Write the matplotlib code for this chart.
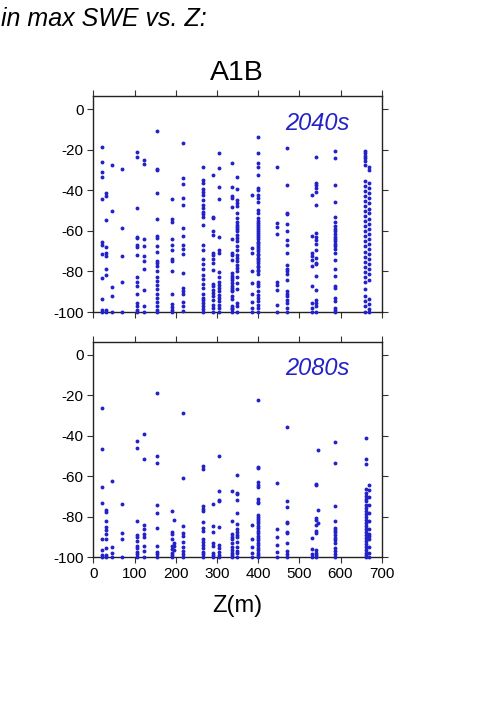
import matplotlib
matplotlib.use("Agg")
import matplotlib.pyplot as plt

plt.rcParams['font.family'] = ['Liberation Sans', 'DejaVu Sans']
plt.rcParams['axes.unicode_minus'] = False

# Elevation columns (m) for the 2040s panel
elev_2040 = [20, 30, 45, 69, 105, 123, 155, 190, 217, 267, 290, 305, 336, 348,
             386, 400, 447, 469, 530, 540, 587, 660, 668]
swe_2040 = [
    [-18.5, -26, -31, -33.6, -44.4, -65.7, -67, -71.6, -83.4, -93.6, -98.9, -100],
    [-41.5, -43, -54.6, -68, -70.7, -72.3, -78.7, -81.6, -99, -100],
    [-27.5, -50, -87.7, -92.3, -100],
    [-29.5, -58.5, -72.6, -85.4, -100],
    [-21, -23.4, -48.5, -62.8, -63.6, -67, -68, -71.8, -82.5, -85, -87.4, -91, -95.6, -97, -99, -100],
    [-25, -27, -64, -67.7, -72.6, -75, -79, -89, -97, -100],
    [-10.6, -29.3, -30, -41.5, -54.3, -62.5, -63.6, -67.7, -70.6, -75, -76, -77.5, -80, -82.5,
     -84.5, -86.6, -88.7, -91, -93, -95.2, -97.2, -98.9, -100],
    [-44.4, -54.3, -55.4, -64, -67, -69.3, -74, -75, -80, -91, -96, -97.5, -99, -100],
    [-16.6, -34, -36.9, -44, -47.2, -58.5, -62.3, -67, -69, -71.6, -81, -88.4, -89.7, -91.3, -95, -97, -99.5],
    [-28.7, -35, -36.5, -39.5, -40.8, -42.3, -44.8, -47, -48.9, -50.5, -51.8, -53, -57, -67, -69.3,
     -73.8, -76.4, -79, -81.6, -83.8, -86, -88.2, -91, -93, -94.3, -95.6, -97.2, -98.5, -100],
    [-32.5, -53, -53.8, -60, -62, -71, -72, -74, -75.9, -79.2, -86, -87.4, -89, -90.7, -92.3, -94, -96.4, -98, -100],
    [-21.8, -29.2, -38.2, -44.4, -62.8, -69.3, -71, -80.5, -82.5, -85, -86.6, -88.2, -89.8, -91.5,
     -93.1, -94.8, -96.4, -98, -100],
    [-26.4, -38.2, -43, -44, -48.4, -64, -70.7, -71.8, -74.6, -80.8, -82.1, -83.3, -84.4, -85.7, -87,
     -88.2, -89, -89.8, -92, -93.6, -97, -97.9, -98.7, -100],
    [-33.6, -39.5, -44.8, -46.4, -47.7, -51.3, -53.8, -55.4, -57, -57.9, -59.2, -60.3, -62, -63.6,
     -65.2, -67.7, -69.3, -72, -73.4, -75.1, -76.7, -78.4, -80, -82.5, -85.7, -88.7, -95.6, -97.2, -100],
    [-42.3, -68.5, -71, -80, -85.7, -91, -95.2, -98, -100],
    [-13.6, -21.8, -26.4, -28.4, -32.5, -39, -39.8, -42.3, -43.9, -46, -49.7, -51, -53.8, -55, -56.2,
     -57.1, -58, -59.3, -60, -61.2, -62, -63.1, -64, -65.3, -66, -67.2, -68, -69.1, -70, -71.3, -72,
     -73.2, -74, -75.1, -76, -77.3, -78, -79.2, -80, -81.5, -85, -86.1, -87.4, -89.8, -91.5, -93,
     -94.8, -96.4, -98, -100],
    [-28.4, -56, -58, -61.5, -85, -86.6, -89, -96.4, -100],
    [-19.2, -37.4, -51, -51.8, -56.6, -60.3, -64.4, -67, -71, -76.7, -79, -80, -81.4, -84.4, -89.8,
     -91, -92, -93.9, -95.6, -98, -100],
    [-42.3, -62.3, -70.7, -72.6, -74.3, -77.5, -87.4, -95.6, -98, -100],
    [-23.4, -36.2, -37.4, -39, -40.7, -47.2, -61, -62.8, -64.4, -66.4, -69.3, -73.6, -75.9, -76.2,
     -82.1, -89, -93.9, -95.6, -97.2, -100],
    [-20.6, -24.3, -37.4, -46, -53.3, -55.4, -57.5, -59.2, -60.3, -61.5, -62.8, -64, -65.2, -66.4,
     -67.7, -69, -70.9, -74.3, -78.8, -82.1, -87.4, -88.2, -93, -94.6, -98, -99, -100],
    [-20.6, -21.8, -23.1, -24.3, -25.4, -27.5, -35.2, -37.7, -40.2, -42.7, -45.2, -47.7, -50.2, -52.7,
     -55.2, -57.7, -60.2, -62.7, -65.2, -67.7, -70.2, -72.7, -75.2, -77.7, -80.2, -82.7, -85.2,
     -88.5, -92, -94.7, -97.2, -100],
    [-28.7, -29.9, -36.4, -39, -41.5, -44, -46.4, -49, -51.4, -54, -56.4, -59, -61.4, -64, -66.4,
     -69, -71.4, -74, -76.4, -79, -81.4, -84, -93.4, -96, -98.5, -100],
]

# Elevation columns (m) for the 2080s panel
elev_2080 = [20, 30, 45, 70, 105, 123, 155, 190, 195, 217, 267, 290, 305, 336, 348,
             386, 400, 447, 469, 530, 540, 545, 587, 662, 668]
swe_2080 = [
    [-26.4, -46.7, -65.2, -73, -91, -96.4, -99, -100],
    [-76.7, -77.7, -82, -85, -86.4, -88.7, -91, -95.6, -99, -100],
    [-62.3, -94.8, -97.7, -100],
    [-73.6, -88.2, -91, -99.7],
    [-42.6, -45.9, -82, -89, -90.2, -91.8, -94.4, -95.6, -97.2, -98.4, -100],
    [-39, -51.3, -83.8, -86, -88.5, -90, -94.6, -97, -100],
    [-19, -50, -53.4, -74.3, -78, -85.7, -94.4, -97.2, -98.4, -100],
    [-77.2, -87.4, -88.5, -91, -94.4, -96, -97.7, -98.8, -100],
    [-81.6, -93, -94.6, -96.2],
    [-28.7, -60.8, -84.4, -88.2, -89.5, -92.3, -94.8, -96.7, -98.4, -100],
    [-55, -56.2, -74.6, -75.9, -77.2, -82.5, -85.7, -86.9, -91, -92.3, -93.9, -95.6, -97.2, -98.4, -100],
    [-73.8, -84.6, -87.4, -93, -94.6, -97.7, -98.8, -100],
    [-50.2, -67.2, -71.5, -72.1, -85.2, -94, -95.6, -97.2, -98.8, -100],
    [-67.4, -82, -88.5, -89.8, -91.1, -93, -95, -96.4, -97.7, -99, -100],
    [-59.3, -68.2, -68.9, -71.8, -77.9, -83.6, -86.2, -87.5, -89, -90.2, -92.3, -94.8, -96.7, -98, -100],
    [-83.8, -91.1, -94.8, -97.7, -99.7],
    [-22.5, -55.4, -55.7, -62.6, -64.4, -65.2, -71, -72.6, -73.4, -79, -80, -81, -82.1, -83.3, -84.5,
     -85.7, -86.9, -88.1, -89.3, -90.5, -91.7, -92.9, -94.1, -95.3, -96.5, -97.7, -98.9, -100],
    [-63.3, -86.2, -89.8, -93.9, -97.2, -100],
    [-35.7, -72, -75, -82.5, -83, -87.4, -88.2, -93.1, -96.7, -98.4, -100],
    [-90.7, -95.8, -98.4, -100],
    [-63.8, -64.1, -80.8, -81.6, -83.8, -86.9, -88.2, -96.4, -97.7, -99, -100],
    [-47.2, -76.7, -83.3],
    [-43, -53.4, -74.6, -82, -85.3, -86.4, -87.6, -88.9, -90.5, -91.6, -92.9, -95.4, -97, -98.2, -100],
    [-41.3, -51.3, -54, -66.5, -68, -69.5, -71, -72.4, -74, -75.5, -77, -78.5, -80, -81.5, -83, -84.5,
     -86, -87.5, -89, -90.5, -92, -93.5, -95, -96.5, -98, -99, -100],
    [-64.3, -67, -70, -74, -78, -82, -86, -88.5, -89.5, -91, -95, -98, -100],
]

panels = [("2040s", elev_2040, swe_2040), ("2080s", elev_2080, swe_2080)]
xticks = [0, 100, 200, 300, 400, 500, 600, 700]
yticks = [0, -20, -40, -60, -80, -100]
blue = "#2222c8"

W, H = 501, 709
fig = plt.figure(figsize=(W / 100, H / 100), dpi=100)

boxes = [(93.3, 96, 381.7, 312), (93.3, 341.7, 381.7, 557.3)]
for i, ((label, elev, vals), (l, t, r, b)) in enumerate(zip(panels, boxes)):
    ax = fig.add_axes([l / W, 1 - b / H, (r - l) / W, (b - t) / H])
    for z, col in zip(elev, vals):
        ax.plot([z] * len(col), col, 'o', color=blue, ms=2.8, mew=0, clip_on=False, zorder=3)
    ax.set_xlim(0, 700)
    ax.set_ylim(-100, 6.5)
    ax.set_xticks(xticks)
    ax.set_yticks(yticks)
    ax.tick_params(direction='out', length=4, width=0.8, color='#333333',
                   top=True, right=True, labelsize=11, pad=3)
    if i == 0:
        ax.tick_params(labelbottom=False)
    for sp in ax.spines.values():
        sp.set_linewidth(1.0)
        sp.set_color('#222222')
    ax.text(0.89, 0.875, label, transform=ax.transAxes, ha='right', va='center',
            fontsize=17, style='italic', color=blue)

fig.text(1 / W, 1 - 19 / H, "in max SWE vs. Z:", ha='left', va='center',
         fontsize=18, style='italic')
fig.text(237 / W, 1 - 73 / H, "A1B", ha='center', va='center', fontsize=20.5)
fig.text(237 / W, 1 - 606 / H, "Z(m)", ha='center', va='center', fontsize=17)

fig.savefig("out.png", dpi=100)
